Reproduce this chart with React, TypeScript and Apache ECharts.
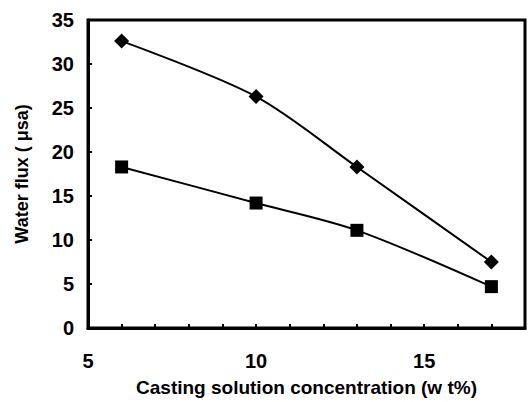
import React, { useEffect, useRef } from "react";
import * as echarts from "echarts";

const concentration = [6, 10, 13, 17];
const fluxDiamond = [32.6, 26.3, 18.3, 7.5];
const fluxSquare = [18.3, 14.2, 11.1, 4.7];
const xTickLabels = [5, 10, 15];
const yName = "Water flux ( \u03bcsa)";
const xName = "Casting solution concentration (w t%)";

export default function App() {
  const ref = useRef<HTMLDivElement>(null);
  useEffect(() => {
    const chart = echarts.init(ref.current!, null, { renderer: "svg" });
    const font = "Liberation Sans, Arial, sans-serif";
    chart.setOption({
      animation: false,
      backgroundColor: "#fff",
      grid: {
        left: 88,
        right: 2,
        top: 20,
        bottom: 66,
        show: true,
        borderColor: "#000",
        borderWidth: 3,
      },
      xAxis: {
        type: "value",
        min: 5,
        max: 18,
        interval: 1,
        name: xName,
        nameLocation: "middle",
        nameGap: 50,
        nameTextStyle: { fontFamily: font, fontSize: 19, fontWeight: "bold", color: "#000" },
        axisLine: { show: true, onZero: false, lineStyle: { color: "#000", width: 3 } },
        axisTick: { show: true, inside: true, length: 4, lineStyle: { color: "#000", width: 2 } },
        splitLine: { show: false },
        axisLabel: {
          margin: 23,
          fontFamily: font,
          fontSize: 20,
          fontWeight: "bold",
          color: "#000",
          formatter: (v: number) => (xTickLabels.includes(v) ? String(v) : ""),
        },
      },
      yAxis: {
        type: "value",
        min: 0,
        max: 35,
        interval: 5,
        name: yName,
        nameLocation: "middle",
        nameGap: 57,
        nameTextStyle: { fontFamily: font, fontSize: 18, fontWeight: "bold", color: "#000" },
        axisLine: { show: true, onZero: false, lineStyle: { color: "#000", width: 3 } },
        axisTick: { show: true, inside: true, length: 4, lineStyle: { color: "#000", width: 2 } },
        splitLine: { show: false },
        axisLabel: { margin: 14, fontFamily: font, fontSize: 20, fontWeight: "bold", color: "#000" },
      },
      series: [
        {
          type: "line",
          data: concentration.map((x, i) => [x, fluxDiamond[i]]),
          symbol: "diamond",
          symbolSize: 15,
          smooth: 0.3,
          lineStyle: { color: "#000", width: 2 },
          itemStyle: { color: "#000" },
        },
        {
          type: "line",
          data: concentration.map((x, i) => [x, fluxSquare[i]]),
          symbol: "rect",
          symbolSize: 13,
          smooth: 0.3,
          lineStyle: { color: "#000", width: 2 },
          itemStyle: { color: "#000" },
        },
      ],
    });
    return () => chart.dispose();
  }, []);
  return <div ref={ref} style={{ width: 528, height: 402, position: "absolute", left: 0, top: 0 }} />;
}
